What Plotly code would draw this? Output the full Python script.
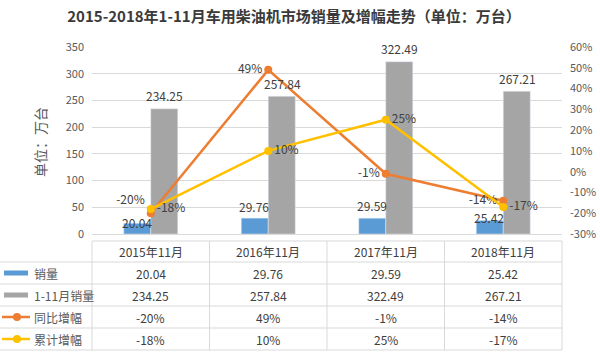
import plotly.graph_objects as go

categories = ["2015年11月", "2016年11月", "2017年11月", "2018年11月"]
sales = [20.04, 29.76, 29.59, 25.42]
sales_ytd = [234.25, 257.84, 322.49, 267.21]
yoy = [-20, 49, -1, -14]
cum = [-18, 10, 25, -17]

series_names = ["销量", "1-11月销量", "同比增幅", "累计增幅"]
left_ticks = [0, 50, 100, 150, 200, 250, 300, 350]
right_ticks = [-30, -20, -10, 0, 10, 20, 30, 40, 50, 60]

# label styling (pixel offsets above bar tops, text positions)
sales_label_lift = [1, 12, 13, 3]
ytd_label_lift = 13
yoy_textpos = ["top left", "middle left", "middle left", "middle left"]
cum_textpos = ["middle right", "middle right", "middle right", "middle right"]

BLUE = "#5B9BD5"
GRAY = "#A5A5A5"
ORANGE = "#ED7D31"
YELLOW = "#FFC000"
TXT = "#404040"
AX = "#595959"
GRID = "#D9D9D9"
FONT = "Noto Sans CJK SC"

W, H = 600, 357
L, R, T, B = 92, 38, 47, 123
PH = H - T - B
PW = W - L - R
BAR_HALF = 14


def py(ypx):
    return (H - B - ypx) / PH


def px(xpx):
    return (xpx - L) / PW


fig = go.Figure()
fig.add_trace(go.Bar(x=categories, y=sales, name=series_names[0], marker_color=BLUE))
fig.add_trace(go.Bar(x=categories, y=sales_ytd, name=series_names[1], marker_color=GRAY))
fig.add_trace(go.Scatter(x=categories, y=[v / 100 for v in yoy], name=series_names[2], yaxis="y2",
                         mode="lines+markers+text", line=dict(color=ORANGE, width=2.5),
                         marker=dict(size=8, color=ORANGE),
                         text=[f"{v}%" for v in yoy], textposition=yoy_textpos,
                         textfont=dict(size=12, color=TXT, family=FONT), cliponaxis=False))
fig.add_trace(go.Scatter(x=categories, y=[v / 100 for v in cum], name=series_names[3], yaxis="y2",
                         mode="lines+markers+text", line=dict(color=YELLOW, width=2.5),
                         marker=dict(size=8, color=YELLOW),
                         text=[f"{v}%" for v in cum], textposition=cum_textpos,
                         textfont=dict(size=12, color=TXT, family=FONT), cliponaxis=False))

annotations = []
for c, v, lift in zip(categories, sales, sales_label_lift):
    annotations.append(dict(x=c, xref="x", y=v, yref="y", text=f"{v:.2f}", showarrow=False,
                            xshift=-BAR_HALF, yshift=lift, yanchor="middle",
                            font=dict(size=12, color=TXT, family=FONT)))
for c, v in zip(categories, sales_ytd):
    annotations.append(dict(x=c, xref="x", y=v, yref="y", text=f"{v:.2f}", showarrow=False,
                            xshift=BAR_HALF, yshift=ytd_label_lift, yanchor="middle",
                            font=dict(size=12, color=TXT, family=FONT)))

row_lines = [241, 262, 284, 306, 328, 350]
row_centers = [(row_lines[i] + row_lines[i + 1]) / 2 for i in range(5)]

shapes = []
shapes.append(dict(type="line", xref="paper", yref="paper", x0=0, x1=1,
                   y0=py(row_lines[0]), y1=py(row_lines[0]), line=dict(color=GRID, width=1)))
for yl in row_lines[1:]:
    shapes.append(dict(type="line", xref="paper", yref="paper", x0=px(0), x1=1,
                       y0=py(yl), y1=py(yl), line=dict(color=GRID, width=1)))
for xv in [0, 0.25, 0.5, 0.75, 1]:
    shapes.append(dict(type="line", xref="paper", yref="paper", x0=xv, x1=xv,
                       y0=py(row_lines[0]), y1=py(row_lines[-1]), line=dict(color=GRID, width=1)))

for i, col in enumerate([BLUE, GRAY]):
    yc = row_centers[i + 1]
    shapes.append(dict(type="rect", xref="paper", yref="paper", x0=px(4), x1=px(28),
                       y0=py(yc + 2.5), y1=py(yc - 2.5), fillcolor=col, line=dict(width=0)))
for i, col in enumerate([ORANGE, YELLOW]):
    yc = row_centers[i + 3]
    shapes.append(dict(type="line", xref="paper", yref="paper", x0=px(2), x1=px(30),
                       y0=py(yc), y1=py(yc), line=dict(color=col, width=2.5)))
    shapes.append(dict(type="circle", xref="paper", yref="paper", x0=px(13), x1=px(21),
                       y0=py(yc + 4), y1=py(yc - 4), fillcolor=col, line=dict(width=0)))

for c in categories:
    annotations.append(dict(x=c, xref="x", y=py(row_centers[0]), yref="paper", text=c,
                            showarrow=False, yanchor="middle",
                            font=dict(size=12, color=TXT, family=FONT)))
rows = [
    [f"{v:.2f}" for v in sales],
    [f"{v:.2f}" for v in sales_ytd],
    [f"{v}%" for v in yoy],
    [f"{v}%" for v in cum],
]
for r, vals in enumerate(rows):
    yc = py(row_centers[r + 1])
    annotations.append(dict(x=px(32), xref="paper", y=yc, yref="paper", text=series_names[r],
                            showarrow=False, xanchor="left", yanchor="middle",
                            font=dict(size=12, color=AX, family=FONT)))
    for c, v in zip(categories, vals):
        annotations.append(dict(x=c, xref="x", y=yc, yref="paper", text=v, showarrow=False,
                                yanchor="middle", font=dict(size=12, color=TXT, family=FONT)))

annotations.append(dict(x=px(40), xref="paper", y=py(142), yref="paper", text="单位：万台",
                        textangle=-90, showarrow=False, xanchor="center", yanchor="middle",
                        font=dict(size=14, color=AX, family=FONT)))

fig.update_layout(
    width=W, height=H, margin=dict(l=L, r=R, t=T, b=B),
    paper_bgcolor="white", plot_bgcolor="white",
    title=dict(text="<b>2015-2018年1-11月车用柴油机市场销量及增幅走势（单位：万台）</b>",
               x=294 / W, xref="container", xanchor="center",
               y=1 - 17 / H, yanchor="middle",
               font=dict(size=15, color="#3A3A3A", family=FONT)),
    barmode="group", bargap=0.54, bargroupgap=0,
    showlegend=False,
    xaxis=dict(type="category", range=[-0.5, 3.5], showticklabels=False, showgrid=False,
               showline=True, linecolor=GRID, ticks="", zeroline=False, automargin=False),
    yaxis=dict(range=[0, 350], tickvals=left_ticks, gridcolor=GRID, zeroline=False,
               tickfont=dict(size=11, color=AX, family=FONT), ticklabelstandoff=7,
               automargin=False),
    yaxis2=dict(range=[-0.3, 0.6], overlaying="y", side="right", showgrid=False,
                tickvals=[v / 100 for v in right_ticks], ticktext=[f"{v}%" for v in right_ticks],
                zeroline=False, tickfont=dict(size=11, color=AX, family=FONT), ticklabelstandoff=7,
                automargin=False),
    shapes=shapes, annotations=annotations,
)

fig.write_html("out.html", config={"displayModeBar": False},
               post_script="document.body.style.margin='0';")
